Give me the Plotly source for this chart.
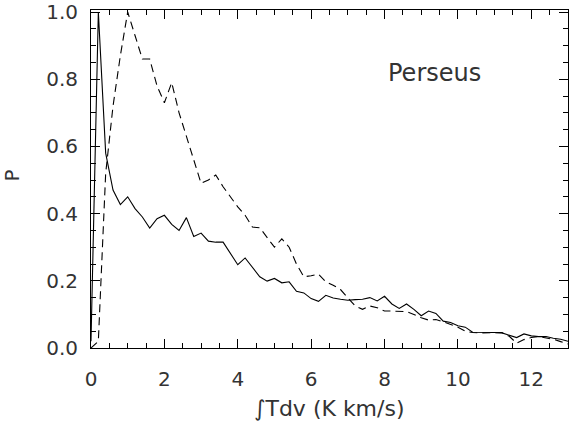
import plotly.graph_objects as go

x_vals = [round(0.2 * i, 1) for i in range(66)]

p_solid = [0.02, 1.0, 0.58, 0.47, 0.427, 0.45, 0.415, 0.39, 0.357, 0.385,
           0.395, 0.368, 0.35, 0.388, 0.332, 0.342, 0.318, 0.315, 0.315, 0.281,
           0.248, 0.268, 0.239, 0.212, 0.199, 0.207, 0.194, 0.197, 0.169, 0.164,
           0.147, 0.139, 0.157, 0.149, 0.145, 0.142, 0.144, 0.145, 0.150, 0.140,
           0.154, 0.131, 0.118, 0.131, 0.115, 0.096, 0.110, 0.103, 0.080, 0.076,
           0.066, 0.062, 0.047, 0.047, 0.048, 0.046, 0.045, 0.039, 0.031, 0.042,
           0.036, 0.034, 0.034, 0.029, 0.026, 0.020]

p_dashed = [0.0, 0.02, 0.52, 0.72, 0.87, 1.0, 0.93, 0.86, 0.86, 0.78,
            0.73, 0.79, 0.70, 0.63, 0.56, 0.49, 0.50, 0.515, 0.48, 0.45,
            0.42, 0.395, 0.36, 0.358, 0.33, 0.30, 0.325, 0.30, 0.25, 0.212,
            0.215, 0.22, 0.197, 0.187, 0.174, 0.15, 0.125, 0.115, 0.125, 0.12,
            0.11, 0.11, 0.11, 0.108, 0.10, 0.09, 0.083, 0.085, 0.078, 0.07,
            0.062, 0.05, 0.046, 0.045, 0.045, 0.047, 0.046, 0.035, 0.014, 0.025,
            0.031, 0.034, 0.03, 0.026, 0.019, 0.012]

x_ticks = [0, 2, 4, 6, 8, 10, 12]
y_ticks = [0.0, 0.2, 0.4, 0.6, 0.8, 1.0]

FONT = "DejaVu Sans"
INK = "#333333"

fig = go.Figure()
fig.add_trace(go.Scatter(x=x_vals, y=p_solid, mode="lines",
                         line=dict(color="black", width=1.1), showlegend=False))
fig.add_trace(go.Scatter(x=x_vals, y=p_dashed, mode="lines",
                         line=dict(color="black", width=1.1, dash="8px,5px"),
                         showlegend=False))

axis_common = dict(
    showline=True, linecolor="black", linewidth=1, mirror="allticks",
    ticks="inside", tickcolor="black", tickwidth=1, ticklen=9,
    showgrid=False, zeroline=False, automargin=False,
    tickfont=dict(family=FONT, size=20, color=INK),
)

fig.update_xaxes(range=[0, 13], tickvals=x_ticks, ticklabelstandoff=13,
                 minor=dict(ticks="inside", dtick=0.5, ticklen=5, tickcolor="black",
                            tickwidth=1, showgrid=False),
                 **axis_common)
fig.update_yaxes(range=[0, 1.006], tickvals=y_ticks, tickformat=".1f",
                 ticklabelstandoff=8,
                 minor=dict(ticks="inside", dtick=0.05, ticklen=5, tickcolor="black",
                            tickwidth=1, showgrid=False),
                 **axis_common)

fig.add_annotation(text="Perseus", x=9.37, y=0.818, xref="x", yref="y",
                   showarrow=False, font=dict(family=FONT, size=24, color=INK))
fig.add_annotation(text="∫Tdv (K km/s)", x=0.5, y=-0.18, xref="paper", yref="paper",
                   xanchor="center", yanchor="middle", showarrow=False,
                   font=dict(family=FONT, size=22, color=INK))
fig.add_annotation(text="P", x=-0.166, y=0.51, xref="paper", yref="paper",
                   xanchor="center", yanchor="middle", textangle=-90, showarrow=False,
                   font=dict(family=FONT, size=20, color=INK))

fig.update_layout(
    width=570, height=424,
    margin=dict(l=91, r=2, t=10, b=76, autoexpand=False),
    paper_bgcolor="white", plot_bgcolor="white",
)

fig.write_html("out.html", config={"displayModeBar": False},
               post_script="document.body.style.margin='0';document.body.style.padding='0';document.body.style.overflow='hidden';")
